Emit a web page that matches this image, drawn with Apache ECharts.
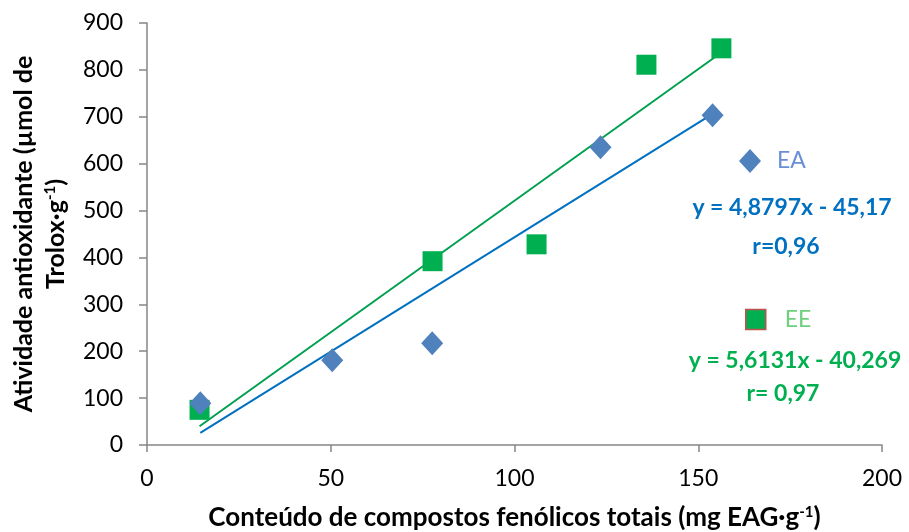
<!DOCTYPE html>
<html>
<head>
<meta charset="utf-8">
<script src="https://cdn.jsdelivr.net/npm/echarts@6/dist/echarts.min.js"></script>
<style>html,body{margin:0;padding:0;background:#fff}#c{width:909px;height:532px}</style>
</head>
<body>
<div id="c"></div>
<script>
// EA data (diamonds)
const eaX = [14.5, 50.4, 77.6, 123.4, 153.9];
const eaY = [89, 181, 217, 635, 703];
// EE data (squares)
const eeX = [14.3, 77.7, 106.0, 135.9, 156.3];
const eeY = [75, 392, 428, 811, 846];
// trend line endpoints
const eaTrendX = [14.5, 153.9];
const eaTrendY = [26, 706];
const eeTrendX = [14.3, 156.3];
const eeTrendY = [40, 837];
// axis ticks
const xTicks = [0, 50, 100, 150, 200];
const yTicks = [0, 100, 200, 300, 400, 500, 600, 700, 800, 900];
// texts
const eaEq = 'y = 4,8797x - 45,17';
const eaR = 'r=0,96';
const eeEq = 'y = 5,6131x - 40,269';
const eeR = 'r= 0,97';

const zip = (a, b) => a.map((v, i) => [v, b[i]]);
const FONT = 'Lato, "Open Sans", sans-serif';

const chart = echarts.init(document.getElementById('c'));
chart.setOption({
  animation: false,
  textStyle: { fontFamily: FONT },
  grid: { left: 147, right: 27, top: 23, bottom: 87, containLabel: false, outerBoundsMode: 'none' },
  xAxis: {
    type: 'value', min: xTicks[0], max: xTicks[xTicks.length - 1], interval: 50,
    splitLine: { show: false },
    axisLine: { show: true, lineStyle: { color: '#868686', width: 1.5 } },
    axisTick: { show: true, length: 7, lineStyle: { color: '#868686', width: 1.5 } },
    axisLabel: { color: '#000', fontSize: 23, margin: 22, fontFamily: FONT },
    name: 'Conteúdo de compostos fenólicos totais (mg EAG·g{sup|-1})',
    nameLocation: 'middle', nameGap: 60,
    nameTextStyle: {
      color: '#000', fontSize: 26, fontWeight: 'bold', fontFamily: FONT,
      rich: { sup: { fontSize: 15, fontWeight: 'bold', padding: [0, 0, 11, 0], fontFamily: FONT } }
    }
  },
  yAxis: {
    type: 'value', min: yTicks[0], max: yTicks[yTicks.length - 1], interval: 100,
    splitLine: { show: false },
    axisLine: { show: true, lineStyle: { color: '#868686', width: 1.5 } },
    axisTick: { show: true, length: 8, lineStyle: { color: '#868686', width: 1.5 } },
    axisLabel: { color: '#000', fontSize: 23, margin: 24, fontFamily: FONT },
    name: 'Atividade antioxidante (µmol de\nTrolox·g{sup|-1})',
    nameLocation: 'middle', nameGap: 72, nameRotate: 90,
    nameTextStyle: {
      color: '#000', fontSize: 25, fontWeight: 'bold', fontFamily: FONT, lineHeight: 32,
      rich: { sup: { fontSize: 15, fontWeight: 'bold', padding: [0, 0, 11, 0], fontFamily: FONT } }
    }
  },
  legend: [
    {
      data: ['EA'], left: 734, top: 144, itemWidth: 22, itemHeight: 24, itemGap: 0,
      textStyle: { color: '#6a8fd6', fontSize: 23, fontFamily: FONT, padding: [6, 0, 0, 11] },
      selectedMode: false
    },
    {
      data: [{ name: 'EE', itemStyle: { borderColor: '#C0504D', borderWidth: 1.5 } }],
      left: 740, top: 303, itemWidth: 20, itemHeight: 20, itemGap: 0,
      textStyle: { color: '#6fcf7f', fontSize: 23, fontFamily: FONT, padding: [6, 0, 0, 14] },
      selectedMode: false
    }
  ],
  graphic: [
    { type: 'text', style: { text: eaEq, x: 792, y: 208, align: 'center', verticalAlign: 'middle', fill: '#0070C0', font: 'bold 23px ' + FONT } },
    { type: 'text', style: { text: eaR, x: 786, y: 247, align: 'center', verticalAlign: 'middle', fill: '#0070C0', font: 'bold 23px ' + FONT } },
    { type: 'text', style: { text: eeEq, x: 795, y: 361, align: 'center', verticalAlign: 'middle', fill: '#00B050', font: 'bold 23px ' + FONT } },
    { type: 'text', style: { text: eeR, x: 783, y: 394, align: 'center', verticalAlign: 'middle', fill: '#00B050', font: 'bold 23px ' + FONT } }
  ],
  series: [
    {
      name: 'EA trend', type: 'line', data: zip(eaTrendX, eaTrendY), symbol: 'none',
      lineStyle: { color: '#0070C0', width: 2 }, z: 2, silent: true
    },
    {
      name: 'EE trend', type: 'line', data: zip(eeTrendX, eeTrendY), symbol: 'none',
      lineStyle: { color: '#00A050', width: 2 }, z: 2, silent: true
    },
    {
      name: 'EE', type: 'scatter', data: zip(eeX, eeY), symbol: 'rect', symbolSize: 20,
      itemStyle: { color: '#00B050', opacity: 1 }, z: 3
    },
    {
      name: 'EA', type: 'scatter', data: zip(eaX, eaY), symbol: 'diamond', symbolSize: [22, 24],
      itemStyle: { color: '#4F81BD', opacity: 1 }, z: 4
    }
  ]
});
</script>
</body>
</html>
